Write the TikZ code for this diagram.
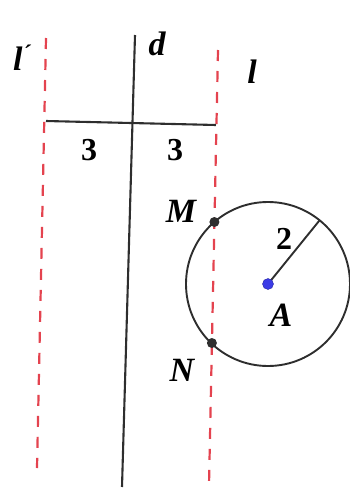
\documentclass[tikz,border=0pt]{standalone}
\usepackage{fontspec}
\setmainfont{Liberation Serif}
\usetikzlibrary{calc}
\definecolor{rot}{HTML}{E4434F}
\definecolor{schw}{HTML}{2E2E2E}
\definecolor{blau}{HTML}{3B3BE6}
\tikzset{
  gerade/.style={schw,line width=2.1pt},
  hilf/.style={rot,line width=2.2pt,dash pattern=on 11pt off 10pt},
  kreis/.style={schw,line width=1.9pt},
  punkt/.style={circle,fill=schw,inner sep=0pt,minimum size=10pt},
  zentrum/.style={circle,fill=blau,draw=blau!70!black,line width=0.4pt,inner sep=0pt,minimum size=11pt},
  lab/.style={font=\fontsize{34}{38}\selectfont\bfseries\itshape,inner sep=0pt},
  zahl/.style={font=\fontsize{32}{36}\selectfont\bfseries,inner sep=0pt},
}

\begin{document}
\begin{tikzpicture}[x=1pt,y=-1pt]
  \useasboundingbox (0,0) rectangle (350,490);
  % parallele Geraden
  \coordinate (lso) at (46,38);  \coordinate (lsu) at (37,468);
  \coordinate (do)  at (135,35); \coordinate (du)  at (122,487);
  \coordinate (lo)  at (218,50); \coordinate (lu)  at (209,485);
  \draw[hilf] (lso)--(lsu);
  \draw[hilf] (lo)--(lu);
  \draw[gerade] (do)--(du);
  \coordinate (h1) at (46,121); \coordinate (h2) at (216,125);
  \draw[gerade] (h1)--(h2);
  \node[zahl] (s1) at (89,150) {3};
  \node[zahl] (s2) at (175,150) {3};
  % Kreis um A
  \coordinate (A0) at (268,284);
  \draw[kreis] (A0) circle[radius=82pt];
  \coordinate (R) at ($(A0)+(51:82pt)$);
  \draw[kreis] (A0)--(R);
  \node[zentrum] (A) at (A0) {};
  \node[punkt] (M) at (214.4,222) {};
  \node[punkt] (N) at (211.9,343) {};
  \node[zahl] (r) at (284,239) {2};
  \node[lab] (tA) at (281,315) {A};
  \node[lab] (tM) at (181,211) {M};
  \node[lab] (tN) at (182,370) {N};
  \node[lab] (td) at (157,44) {d};
  \node[lab] (tl) at (252,72) {l};
  \node[lab] (tls) at (22,58) {l\textsuperscript{\textasciiacute}};
\end{tikzpicture}
\end{document}
